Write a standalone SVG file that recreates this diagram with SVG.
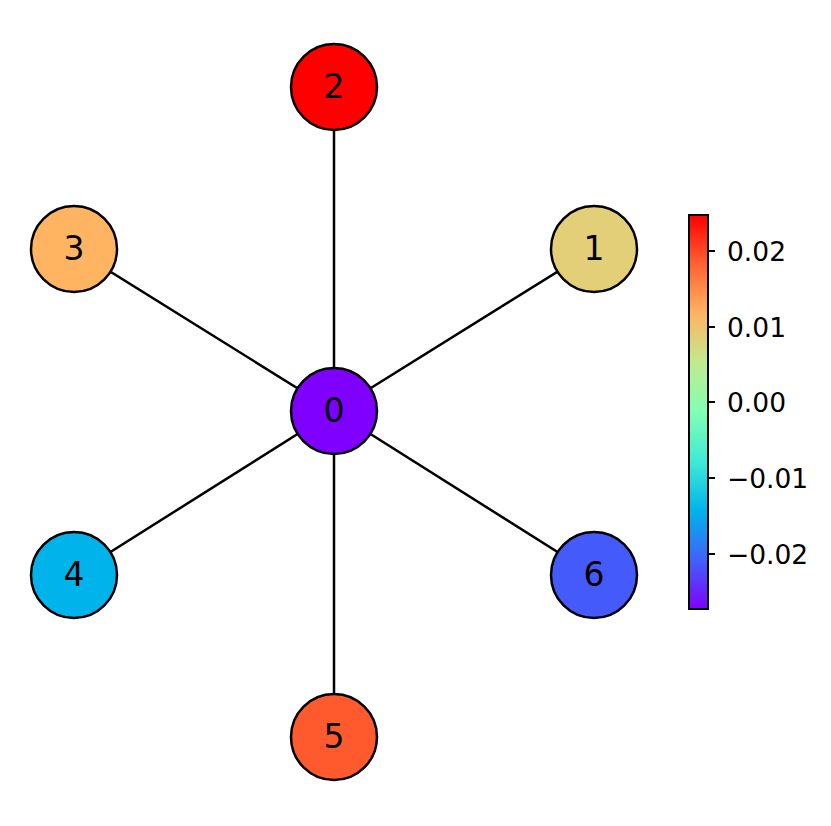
<svg xmlns="http://www.w3.org/2000/svg" width="831" height="826" viewBox="0 0 831 826">
<style>
.edge{stroke:#000;stroke-width:2.5;fill:none}
.node circle{stroke:#000;stroke-width:2.5}
.node text{font-family:"DejaVu Sans",sans-serif;font-size:33px;text-anchor:middle;fill:#000}
.tick{stroke:#000;stroke-width:2}
.tl{font-family:"DejaVu Sans",sans-serif;font-size:26.5px;fill:#000}
</style>
<defs>
<linearGradient id="rb" x1="0" y1="1" x2="0" y2="0">
<stop offset="0" stop-color="#8000ff"/>
<stop offset="0.125" stop-color="#4062fa"/>
<stop offset="0.25" stop-color="#00b4eb"/>
<stop offset="0.375" stop-color="#40ebd4"/>
<stop offset="0.5" stop-color="#80ffb4"/>
<stop offset="0.625" stop-color="#c0eb8e"/>
<stop offset="0.75" stop-color="#ffb462"/>
<stop offset="0.875" stop-color="#ff6232"/>
<stop offset="1" stop-color="#ff0000"/>
</linearGradient>
</defs>
<rect width="831" height="826" fill="#fff"/>
<g id="edges">
<line class="edge" x1="334" y1="411" x2="334" y2="87"/>
<line class="edge" x1="334" y1="411" x2="334" y2="737"/>
<line class="edge" x1="334" y1="411" x2="74" y2="249"/>
<line class="edge" x1="334" y1="411" x2="594" y2="249"/>
<line class="edge" x1="334" y1="411" x2="74" y2="575"/>
<line class="edge" x1="334" y1="411" x2="594" y2="575"/>
</g>
<g id="node0" class="node"><circle cx="334" cy="411" r="43" fill="#8000ff"/><text x="334" y="422">0</text></g>
<g id="node1" class="node"><circle cx="594" cy="249" r="43" fill="#e2cf77"/><text x="594" y="260">1</text></g>
<g id="node2" class="node"><circle cx="334" cy="87" r="43" fill="#ff0000"/><text x="334" y="98">2</text></g>
<g id="node3" class="node"><circle cx="74" cy="249" r="43" fill="#ffb462"/><text x="74" y="260">3</text></g>
<g id="node4" class="node"><circle cx="74" cy="575" r="43" fill="#00b4eb"/><text x="74" y="586">4</text></g>
<g id="node5" class="node"><circle cx="334" cy="737" r="43" fill="#ff5a2e"/><text x="334" y="748">5</text></g>
<g id="node6" class="node"><circle cx="594" cy="575" r="43" fill="#455afb"/><text x="594" y="586">6</text></g>
<g id="colorbar">
<rect x="689" y="215" width="19" height="394" fill="url(#rb)" stroke="#000" stroke-width="2"/>
<line class="tick" x1="708" y1="251" x2="715" y2="251"/>
<line class="tick" x1="708" y1="327" x2="715" y2="327"/>
<line class="tick" x1="708" y1="402" x2="715" y2="402"/>
<line class="tick" x1="708" y1="478" x2="715" y2="478"/>
<line class="tick" x1="708" y1="554" x2="715" y2="554"/>
<text class="tl" x="727" y="261">0.02</text>
<text class="tl" x="727" y="337">0.01</text>
<text class="tl" x="727" y="412">0.00</text>
<text class="tl" x="727" y="488">−0.01</text>
<text class="tl" x="727" y="564">−0.02</text>
</g>
</svg>
